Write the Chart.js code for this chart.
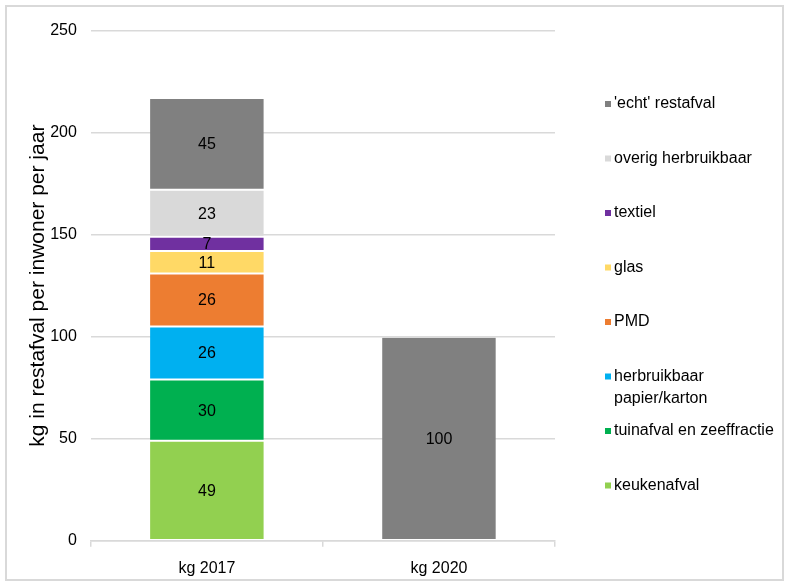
<!DOCTYPE html>
<html lang="nl">
<head>
  <meta charset="UTF-8">
  <title>Restafval per inwoner</title>
  <script src="https://cdn.jsdelivr.net/npm/chart.js"></script>
  <style>
    body { margin: 0; background: #fff; }
    #frame {
      position: absolute; left: 5px; top: 5px;
      width: 775px; height: 572px;
      border: 2px solid #d9d9d9;
    }
    #afvalChart { position: absolute; left: 7px; top: 7px; }
  </style>
</head>
<body>
  <div id="frame"></div>
  <canvas id="afvalChart" width="775" height="577"></canvas>

  <script>
    // categorieën en waarden (kg per inwoner per jaar)
    const jaren = ['kg 2017', 'kg 2020'];
    const keukenafval = [49, null];
    const tuinafval = [30, null];
    const papier = [26, null];
    const pmd = [26, null];
    const glas = [11, null];
    const textiel = [7, null];
    const overig = [23, null];
    const echtRestafval = [45, 100];
    const yTicks = [0, 50, 100, 150, 200, 250];

    const lettertype = "'Liberation Sans', Arial, sans-serif";

    // waarden in het midden van elk segment
    const waardeLabels = {
      id: 'waardeLabels',
      afterDatasetsDraw(chart) {
        const ctx = chart.ctx;
        ctx.save();
        ctx.font = '16px ' + lettertype;
        ctx.fillStyle = '#000';
        ctx.textAlign = 'center';
        ctx.textBaseline = 'middle';
        chart.data.datasets.forEach((ds, i) => {
          const meta = chart.getDatasetMeta(i);
          meta.data.forEach((bar, j) => {
            const v = ds.data[j];
            if (v == null) return;
            ctx.fillText(String(v), bar.x, (bar.y + bar.base) / 2 + 1);
          });
        });
        ctx.restore();
      }
    };

    // legenda rechts, bovenste laag eerst
    const eigenLegenda = {
      id: 'eigenLegenda',
      afterDraw(chart) {
        const ctx = chart.ctx;
        const items = chart.data.datasets.slice().reverse();
        const x = chart.chartArea.right + 50;
        let y = 97;
        ctx.save();
        ctx.font = '16px ' + lettertype;
        ctx.textBaseline = 'middle';
        items.forEach(ds => {
          ctx.fillStyle = ds.backgroundColor;
          ctx.fillRect(x, y - 3, 6, 6);
          ctx.fillStyle = '#000';
          const regels = ds.label.split('\n');
          regels.forEach((r, k) => ctx.fillText(r, x + 9, y + k * 22));
          y += 54.5;
        });
        ctx.restore();
      }
    };

    const ctx = document.getElementById('afvalChart').getContext('2d');
    new Chart(ctx, {
      type: 'bar',
      data: {
        labels: jaren,
        datasets: [
          { label: 'keukenafval', data: keukenafval, backgroundColor: '#92D050' },
          { label: 'tuinafval en zeeffractie', data: tuinafval, backgroundColor: '#00B050' },
          { label: 'herbruikbaar\npapier/karton', data: papier, backgroundColor: '#00B0F0' },
          { label: 'PMD', data: pmd, backgroundColor: '#ED7D31' },
          { label: 'glas', data: glas, backgroundColor: '#FFD966' },
          { label: 'textiel', data: textiel, backgroundColor: '#7030A0' },
          { label: 'overig herbruikbaar', data: overig, backgroundColor: '#D9D9D9' },
          { label: "'echt' restafval", data: echtRestafval, backgroundColor: '#808080' }
        ].map(d => Object.assign(d, {
          borderColor: '#ffffff',
          borderWidth: { top: 1, bottom: 1, left: 0, right: 0 },
          borderSkipped: false,
          categoryPercentage: 1,
          barPercentage: 0.49
        }))
      },
      options: {
        responsive: false,
        animation: false,
        layout: { padding: { top: 12, right: 227, bottom: -6, left: 19 } },
        plugins: {
          legend: { display: false },
          tooltip: { enabled: false }
        },
        scales: {
          x: {
            stacked: true,
            offset: true,
            grid: { display: true, drawOnChartArea: false, drawTicks: true, tickLength: 6, color: '#d9d9d9', lineWidth: 1.5 },
            border: { display: true, color: '#d9d9d9', width: 1.5 },
            ticks: { color: '#000', font: { family: lettertype, size: 16 }, padding: 12 }
          },
          y: {
            stacked: true,
            min: 0,
            max: 250,
            afterBuildTicks: axis => { axis.ticks = yTicks.map(v => ({ value: v })); },
            grid: { color: '#d9d9d9', lineWidth: 1.5, drawTicks: false },
            border: { display: false },
            ticks: { color: '#000', font: { family: lettertype, size: 16 }, padding: 14 },
            title: {
              display: true,
              text: 'kg in restafval per inwoner per jaar',
              color: '#000',
              font: { family: lettertype, size: 21 },
              padding: { top: 0, bottom: -15 }
            }
          }
        }
      },
      plugins: [waardeLabels, eigenLegenda]
    });
  </script>
</body>
</html>
